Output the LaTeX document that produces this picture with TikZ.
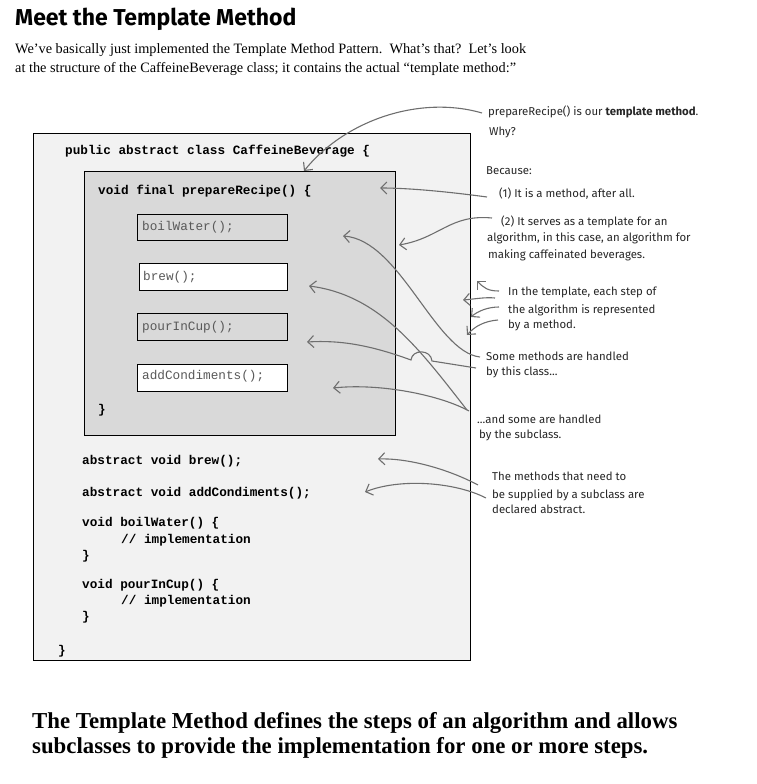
\documentclass[tikz,border=0pt]{standalone}
\usepackage{fontspec}
\setmainfont{Liberation Serif}
\newfontfamily\codefont{Liberation Mono}
\newfontfamily\handfont{Fira Sans}
\usetikzlibrary{arrows.meta}
\definecolor{classgray}{HTML}{F2F2F2}
\definecolor{methodgray}{HTML}{D9D9D9}
\definecolor{pencil}{HTML}{6E6E6E}
\begin{document}
\begin{tikzpicture}[x=1pt,y=-1pt,
    code/.style={font=\codefont\bfseries\fontsize{12.7}{15}\selectfont, anchor=base west, inner sep=0pt},
    call/.style={font=\codefont\fontsize{12.7}{15}\selectfont, text=black!65, anchor=base west, inner sep=0pt},
    note/.style={font=\handfont\fontsize{11.4}{13}\selectfont, text=black!85, anchor=base west, inner sep=0pt},
    pointer/.style={draw=pencil, line width=1.1pt, -{Straight Barb[length=6pt,width=12pt]}}]
  \useasboundingbox (0,0) rectangle (756,784);
  % heading and intro
  \node[anchor=base west, inner sep=0pt, font=\handfont\bfseries\fontsize{23}{27}\selectfont] (title) at (15,26) {Meet the Template Method};
  \node[anchor=base west, inner sep=0pt, font=\fontsize{14.3}{17}\selectfont] (intro1) at (15,54)
    {We’ve basically just implemented the Template Method Pattern.\ \ What’s that?\ \ Let’s look};
  \node[anchor=base west, inner sep=0pt, font=\fontsize{14.3}{17}\selectfont] (intro2) at (15,73)
    {at the structure of the CaffeineBeverage class; it contains the actual “template method:”};
  % class and template method boxes
  \draw[fill=classgray] (33,133) rectangle (470,660);
  \draw[fill=methodgray] (84,171) rectangle (395,435);
  \draw[fill=methodgray] (137,214) rectangle (287,240);
  \draw[fill=white] (139,263) rectangle (287,290);
  \draw[fill=methodgray] (137,313) rectangle (287,340);
  \draw[fill=white] (137,364) rectangle (287,391);
  % code
  \draw
    (65,154) node[code] (cls){public abstract class CaffeineBeverage \{}
    (98,194) node[code] (tpl){void final prepareRecipe() \{}
    (142,230) node[call] (s1){boilWater();}
    (143,280) node[call] (s2){brew();}
    (142,330) node[call] (s3){pourInCup();}
    (142,379) node[call] (s4){addCondiments();}
    (98,413) node[code] (tplend){\}}
    (82,464) node[code] (abs1){abstract void brew();}
    (82,496) node[code] (abs2){abstract void addCondiments();}
    (82,526) node[code] (m1){void boilWater() \{}
    (121,543) node[code] (m1body){// implementation}
    (82,559) node[code] (m1end){\}}
    (82,588) node[code] (m2){void pourInCup() \{}
    (121,604) node[code] (m2body){// implementation}
    (82,620) node[code] (m2end){\}}
    (58,654) node[code] (clsend){\}};
  % notes
  \draw
    (488,115) node[note] (n1){prepareRecipe() is our \textbf{template method}.}
    (489,135) node[note] (n1b){Why?}
    (486,174) node[note] (n2){Because:}
    (499,197) node[note] (n3){(1) It is a method, after all.}
    (501,225) node[note] (n4){(2) It serves as a template for an}
    (487,241) node[note] (n4b){algorithm, in this case, an algorithm for}
    (488,258) node[note] (n4c){making caffeinated beverages.}
    (508,295) node[note] (n5){In the template, each step of}
    (508,313) node[note] (n5b){the algorithm is represented}
    (508,328) node[note] (n5c){by a method.}
    (486,360) node[note] (n6){Some methods are handled}
    (486,375) node[note] (n6b){by this class...}
    (477,423) node[note] (n7){...and some are handled}
    (479,438) node[note] (n7b){by the subclass.}
    (492,480) node[note] (n8){The methods that need to}
    (492,498) node[note] (n8b){be supplied by a subclass are}
    (492,513) node[note] (n8c){declared abstract.};
  % arrow ends
  \coordinate (t1) at (482,113);  \coordinate (h1) at (304,171);
  \coordinate (t2) at (487,197);  \coordinate (h2) at (380,188);
  \coordinate (t3) at (492,218);  \coordinate (h3) at (399,245);
  \coordinate (t4) at (480,357);  \coordinate (h4) at (343,236);
  \coordinate (t5) at (476,368);  \coordinate (h5) at (307,342);
  \coordinate (t6) at (467,410);  \coordinate (h6) at (309,286);
  \coordinate (t7) at (469,411);  \coordinate (h7) at (333,388);
  \coordinate (t8) at (499,291);  \coordinate (h8) at (477,281);
  \coordinate (t9) at (495,298);  \coordinate (h9) at (463,300);
  \coordinate (t10) at (499,307); \coordinate (h10) at (471,317);
  \coordinate (t11) at (498,320); \coordinate (h11) at (467,335);
  \coordinate (t12) at (478,485); \coordinate (h12) at (378,459);
  \coordinate (t13) at (486,498); \coordinate (h13) at (365,492);
  \begin{scope}[pointer]
    \draw (t1) .. controls (420,95) and (345,120) .. (h1);
    \draw (t2) .. controls (450,192) and (410,188) .. (h2);
    \draw (t3) .. controls (450,214) and (440,238) .. (h3);
    \draw (t4) .. controls (435,352) and (400,240) .. (h4);
    \draw (t5) -- (432,361) .. controls (431,349) and (412,349) .. (411,360)
      .. controls (370,345) and (340,340) .. (h5);
    \draw (t6) .. controls (420,350) and (380,295) .. (h6);
    \draw (t7) .. controls (440,395) and (380,383) .. (h7);
    \draw (t8) .. controls (488,291) and (484,288) .. (h8);
    \draw (t9) .. controls (485,297) and (475,299) .. (h9);
    \draw (t10) .. controls (488,307) and (478,311) .. (h10);
    \draw (t11) .. controls (485,321) and (475,326) .. (h11);
    \draw (t12) .. controls (450,470) and (410,458) .. (h12);
    \draw (t13) .. controls (455,482) and (400,478) .. (h13);
  \end{scope}
  % summary
  \node[anchor=base west, inner sep=0pt, font=\bfseries\fontsize{22.8}{26}\selectfont] (sum1) at (32,728)
    {The Template Method defines the steps of an algorithm and allows};
  \node[anchor=base west, inner sep=0pt, font=\bfseries\fontsize{22.8}{26}\selectfont] (sum2) at (32,753)
    {subclasses to provide the implementation for one or more steps.};
\end{tikzpicture}
\end{document}
